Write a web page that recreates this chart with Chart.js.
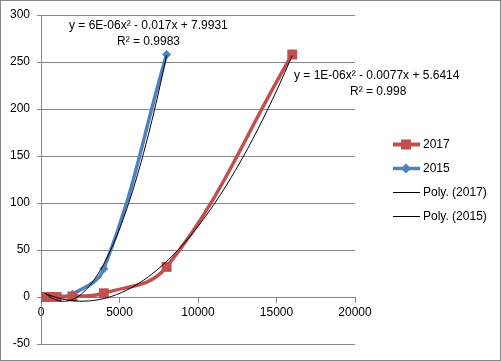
<!DOCTYPE html>
<html>
<head>
<meta charset="utf-8">
<script src="https://cdn.jsdelivr.net/npm/chart.js@4/dist/chart.umd.min.js"></script>
<style>
  html, body { margin: 0; padding: 0; background: #fff; }
  #wrap { width: 501px; height: 361px; position: relative; }
</style>
</head>
<body>
<div id="wrap"><canvas id="chart"></canvas></div>
<script>
// values
const x2017 = [250, 500, 1000, 2000, 4000, 8000, 16000];
const y2017 = [0, 0, 0, 0.5, 4, 32, 258];
const x2015 = [250, 500, 1000, 2000, 4000, 8000];
const y2015 = [0, 0, 0.5, 3, 30, 258];
const xTicks = [0, 5000, 10000, 15000, 20000];
const yTicks = [-50, 0, 50, 100, 150, 200, 250, 300];
const eq2017 = ["y = 1E-06x² - 0.0077x + 5.6414", "R² = 0.998"];
const eq2015 = ["y = 6E-06x² - 0.017x + 7.9931", "R² = 0.9983"];

const RED = "#c0504d";
const BLUE = "#4f81bd";
const GRID = "#868686";
const FONT = "'Liberation Sans', Arial, sans-serif";

// least squares quadratic, like the Excel "Poly." trendline
function polyFit(xs, ys) {
  const k = 1000;
  let s = [0, 0, 0, 0, 0], t = [0, 0, 0];
  xs.forEach((x, i) => {
    const u = x / k;
    for (let p = 0; p < 5; p++) s[p] += Math.pow(u, p);
    for (let p = 0; p < 3; p++) t[p] += Math.pow(u, p) * ys[i];
  });
  const m = [[s[0], s[1], s[2], t[0]], [s[1], s[2], s[3], t[1]], [s[2], s[3], s[4], t[2]]];
  for (let c = 0; c < 3; c++) {
    for (let r = c + 1; r < 3; r++) {
      const f = m[r][c] / m[c][c];
      for (let j = c; j < 4; j++) m[r][j] -= f * m[c][j];
    }
  }
  const b = [0, 0, 0];
  for (let r = 2; r >= 0; r--) {
    let v = m[r][3];
    for (let j = r + 1; j < 3; j++) v -= m[r][j] * b[j];
    b[r] = v / m[r][r];
  }
  return x => b[0] + b[1] * (x / k) + b[2] * (x / k) * (x / k);
}

function trend(xs, ys) {
  const f = polyFit(xs, ys);
  const lo = xs[0], hi = xs[xs.length - 1];
  const pts = [];
  for (let i = 0; i <= 100; i++) {
    const x = lo + (hi - lo) * i / 100;
    pts.push({ x: x, y: f(x) });
  }
  return pts;
}

const pairs = (xs, ys) => xs.map((x, i) => ({ x: x, y: ys[i] }));

const extras = {
  id: "extras",
  afterDraw(chart) {
    const ctx = chart.ctx;
    ctx.save();
    // outer frame
    ctx.strokeStyle = GRID;
    ctx.lineWidth = 1;
    ctx.strokeRect(0.5, 0.5, chart.width - 1, chart.height - 1);

    ctx.fillStyle = "#000";
    ctx.font = "12px " + FONT;
    ctx.textBaseline = "middle";
    ctx.textAlign = "left";
    // trendline labels
    ctx.fillText(eq2015[0], 69, 26);
    ctx.fillText(eq2015[1], 117, 42);
    ctx.fillText(eq2017[0], 294, 76);
    ctx.fillText(eq2017[1], 350, 92);

    // legend
    const items = [
      { label: "2017", color: RED, w: 4, marker: "square", y: 144 },
      { label: "2015", color: BLUE, w: 3.5, marker: "diamond", y: 168 },
      { label: "Poly. (2017)", color: "#000", w: 1, marker: null, y: 192 },
      { label: "Poly. (2015)", color: "#000", w: 1, marker: null, y: 216 }
    ];
    items.forEach(it => {
      ctx.strokeStyle = it.color;
      ctx.lineWidth = it.w;
      ctx.beginPath();
      ctx.moveTo(393, it.y + 0.5);
      ctx.lineTo(420, it.y + 0.5);
      ctx.stroke();
      ctx.fillStyle = it.color;
      if (it.marker === "square") {
        ctx.fillRect(401, it.y - 4.5, 10, 10);
      } else if (it.marker === "diamond") {
        ctx.beginPath();
        ctx.moveTo(406, it.y - 4.5);
        ctx.lineTo(411, it.y + 0.5);
        ctx.lineTo(406, it.y + 5.5);
        ctx.lineTo(401, it.y + 0.5);
        ctx.closePath();
        ctx.fill();
      }
      ctx.fillStyle = "#000";
      ctx.fillText(it.label, 423, it.y + 1);
    });
    ctx.restore();
  }
};

new Chart(document.getElementById("chart"), {
  type: "scatter",
  data: {
    datasets: [
      {
        label: "Poly. (2017)",
        data: trend(x2017, y2017),
        showLine: true,
        borderColor: "#000",
        borderWidth: 1,
        pointRadius: 0,
        tension: 0
      },
      {
        label: "Poly. (2015)",
        data: trend(x2015, y2015),
        showLine: true,
        borderColor: "#000",
        borderWidth: 1,
        pointRadius: 0,
        tension: 0
      },
      {
        label: "2017",
        data: pairs(x2017, y2017),
        showLine: true,
        borderColor: RED,
        backgroundColor: RED,
        borderWidth: 3.5,
        pointStyle: "rect",
        pointRadius: 7,
        pointBorderWidth: 0,
        tension: 0.4
      },
      {
        label: "2015",
        data: pairs(x2015, y2015),
        showLine: true,
        borderColor: BLUE,
        backgroundColor: BLUE,
        borderWidth: 3.5,
        pointStyle: "rectRot",
        pointRadius: 4.5,
        pointBorderWidth: 0,
        tension: 0.4
      }
    ]
  },
  options: {
    responsive: true,
    maintainAspectRatio: false,
    animation: false,
    layout: { padding: { left: 0, top: 15, right: 146, bottom: 17 } },
    plugins: { legend: { display: false }, tooltip: { enabled: false } },
    scales: {
      x: {
        type: "linear",
        position: { y: 0 },
        min: 0,
        max: 20000,
        afterBuildTicks: s => { s.ticks = xTicks.map(v => ({ value: v })); },
        grid: { drawOnChartArea: false, color: GRID, tickLength: 5 },
        border: { color: GRID },
        ticks: { color: "#000", font: { family: FONT, size: 12 }, padding: 3, maxRotation: 0, callback: v => v }
      },
      y: {
        type: "linear",
        min: -50,
        max: 300,
        afterBuildTicks: s => { s.ticks = yTicks.map(v => ({ value: v })); },
        afterFit: s => { s.width = 41; },
        grid: { color: GRID, tickLength: 4 },
        border: { color: GRID },
        ticks: { color: "#000", font: { family: FONT, size: 12 }, padding: 7, callback: v => v }
      }
    }
  },
  plugins: [extras]
});
</script>
</body>
</html>
